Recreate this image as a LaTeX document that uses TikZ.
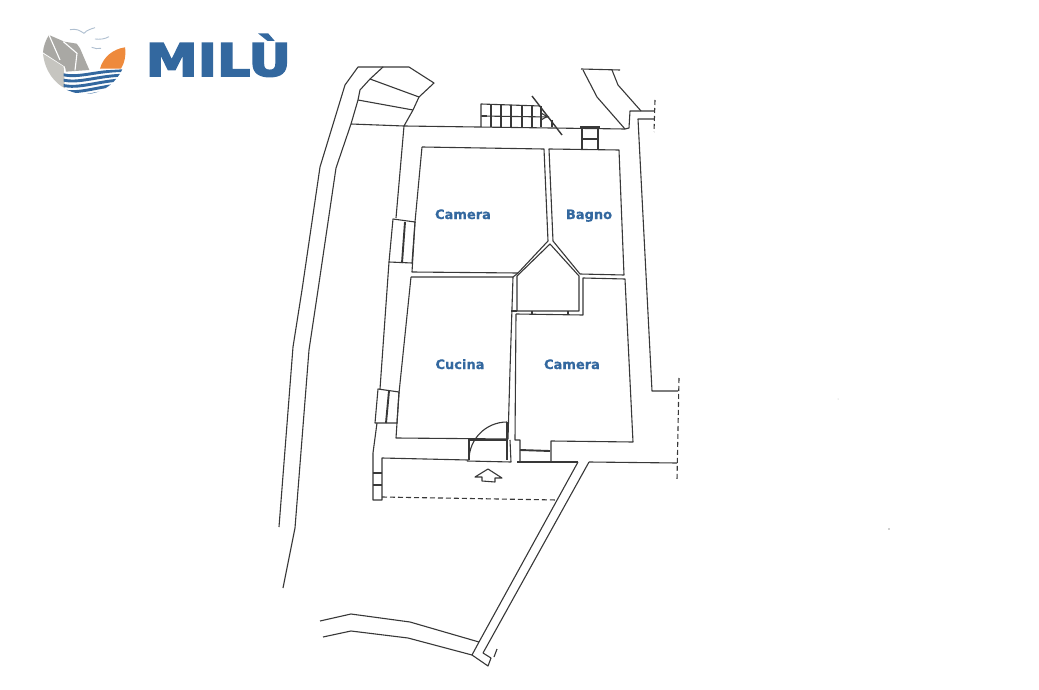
\documentclass[tikz,border=0pt]{standalone}
\usepackage{fontspec}
\setmainfont{DejaVu Sans}
\newfontfamily\brandfont[FakeBold=3.6]{DejaVu Sans Bold}
\newfontfamily\labelfont[FakeBold=0.6]{DejaVu Sans Bold}
\definecolor{milu}{HTML}{33689F}
\definecolor{ink}{HTML}{383838}
\definecolor{rockA}{HTML}{A9A8A4}
\definecolor{rockB}{HTML}{C6C5C0}
\definecolor{sun}{HTML}{EE8A3C}
\definecolor{bird}{HTML}{AFBFD0}
\tikzset{
 wall/.style={draw=ink,line width=1.1pt,line join=round},
 thick wall/.style={draw=ink,line width=1.9pt},
 dash wall/.style={draw=ink,line width=1.1pt,dash pattern=on 5pt off 3pt},
 room label/.style={font=\labelfont\fontsize{13}{14}\selectfont,text=milu,inner sep=0pt,anchor=base},
 rock line/.style={draw=white,line width=1.1pt},
 wave/.style={draw=milu,line width=2.9pt},
 birdline/.style={draw=bird,line width=0.9pt}
}
\begin{document}
\begin{tikzpicture}[x=1pt,y=-1pt]
\useasboundingbox (0,0) rectangle (1039,690);
\fill[white] (0,0) rectangle (1039,690);
% logo
\begin{scope}[shift={(35,25)},x=0.3333pt,y=-0.3333pt]
\fill[rockA] (42,30) .. controls (32,45) and (25,65) .. (24,82) -- (90,125) -- (93,140) -- (163,135) -- (135,70) -- (125,56) -- (88,50) -- cycle;
\fill[rockB] (24,86) -- (86,125) -- (90,190) .. controls (60,175) and (30,140) .. (24,86) -- cycle;
\draw[rock line] (42,30) -- (75,105);
\draw[rock line] (85,50) -- (126,85) -- (120,136);
\fill[sun] (195,131) .. controls (205,95) and (235,72) .. (270,67) .. controls (274,90) and (268,115) .. (258,131) -- cycle;
\begin{scope}
\clip (86,143) -- (262,133) .. controls (245,170) and (205,207) .. (150,207) .. controls (125,207) and (105,200) .. (86,190) -- cycle;
\foreach \d in {0,16,32,48,64}{
\draw[wave] (80,148+\d) .. controls (130,162+\d) and (190,135+\d) .. (270,137+\d*0.85);
}
\end{scope}
\draw[birdline] (105,14) .. controls (125,10) and (135,17) .. (147,25) .. controls (155,15) and (168,12) .. (180,8);
\draw[birdline] (180,42) .. controls (195,44) and (210,42) .. (222,35);
\draw[birdline] (170,67) .. controls (180,70) and (188,73) .. (198,70);
\end{scope}
\node[font=\brandfont\fontsize{45}{45}\selectfont,text=milu,inner sep=0pt,anchor=base west,xscale=1.16] (brand) at (145.5,76) {MILÙ};
% left boundary lines
\draw[wall] (383,67) -- (358,67) -- (345,85) -- (320,167) -- (302,290) -- (293,347) -- (279,527);
\draw[wall] (351,124) -- (336,168) -- (318,290) -- (309,350) -- (295,528) -- (283,588);
% steps
\draw[wall] (383,67) -- (409,67) -- (434,83) -- (419,97) -- (413,110) -- (404,126);
\draw[wall] (383,67) -- (370,79) -- (360,90) -- (358,100) -- (351,124);
\draw[wall] (370,79) -- (419,97) (358,100) -- (413,110) (351,124) -- (404,126);
% top wall and right wall
\draw[wall] (404,126) -- (625,129) -- (629,128) -- (630,111) -- (654,111);
\draw[wall] (654,119) -- (638,119) -- (652,391) -- (678,391);
\draw[dash wall] (655,100) -- (654,132);
% top right
\draw[wall] (581,69) -- (620,70);
\draw[wall] (583,70) -- (597,97) -- (625,129);
\draw[wall] (612,70) -- (618,85) -- (641,111);
% stairs
\draw[wall] (481,127) -- (481,104) -- (540,106);
\draw[wall] (481,116) -- (549,117);
\foreach \x/\b in {491/105,501/105,511/105,522/105,532/105,541/106,552/120}{\draw[wall] (\x,\b) -- (\x,127);}
\draw[draw=ink,line width=1.4pt] (532,96) -- (562,135);
\draw[draw=ink,line width=1.6pt] (482,116) -- (487,116);
\draw[wall] (541,113) -- (547,116.5) -- (541,120);
% chimney
\draw[wall] (580,127) -- (600,127);
\draw[wall] (582,128) -- (582,149) (598,128) -- (598,149);
\draw[thick wall] (582,139) -- (598,139);
% Camera 1
\draw[wall] (422,147) -- (544,149) -- (548,241) -- (518,273) -- (412,272) -- (415,222);
\draw[wall] (422,147) -- (415,222);
% Bagno
\draw[wall] (549,149) -- (619,150) -- (624,275) -- (580,274) -- (553,241) -- cycle;
% closet
\draw[wall] (550,244) -- (517,276) -- (517,311) -- (579,311) -- (579,276) -- cycle;
\draw[wall] (511,311) -- (517,311) (532,311) -- (532,314) (568,311) -- (568,315);
% Cucina
\draw[wall] (411,277) -- (513,277) -- (510,370) -- (508,439) -- (396,438) -- (399,393);
\draw[wall] (411,277) -- (399,393);
\draw[wall] (513,277) -- (518,273);
% Camera 2
\draw[wall] (516,314) -- (583,315) -- (583,278) -- (625,279) -- (633,442) -- (551,441) -- (551,462);
\draw[wall] (516,314) -- (515,440) -- (520,440) -- (520,461);
\draw[thick wall] (520,450) -- (550,451);
\draw[wall] (517,462) -- (578,462);
% outer left wall + windows
\draw[wall] (404,126) -- (396,218);
\draw[wall] (393,219) -- (415,222) -- (412,263) -- (389,262) -- cycle;
\draw[thick wall] (405,222) -- (402,263);
\draw[wall] (389,262) -- (380,389);
\draw[wall] (378,389) -- (399,392) -- (397,423) -- (375,423) -- cycle;
\draw[thick wall] (389,391) -- (386,423);
\draw[wall] (377,423) -- (373,453) -- (373,500) -- (382,500) -- (382,458) -- (468,460);
\draw[wall] (373,473) -- (382,473) (373,485) -- (382,485);
\draw[dash wall] (382,497) -- (557,500);
% entrance door
\draw[wall] (469,439) -- (469,460);
\draw[wall] (469,460) arc[start angle=180,end angle=270,radius=38];
\draw[draw=ink,line width=1.3pt] (507,422) -- (507,460);
\draw[wall] (467,461) -- (511,462) -- (510,440);
\draw[wall] (469,440) -- (508,440);
% arrow
\draw[wall] (475,477) -- (488,469) -- (502,478) -- (495,478) -- (495,482) -- (482,481) -- (482,477) -- cycle;
% bottom right
\draw[wall] (589,462) -- (677,463);
\draw[dash wall] (679,378) -- (677,480);
% long diagonal
\draw[wall] (578,462) -- (479,642);
\draw[wall] (589,462) -- (483,653) -- (491,658) -- (488,666) -- (472,655) -- (479,642);
\draw[wall] (497,649) -- (494,657);
% lower curves
\draw[wall] (320,621) -- (351,614) -- (410,622) -- (479,642);
\draw[wall] (323,637) -- (351,631) -- (408,638) -- (472,655);
% specks
\fill[ink] (889,529) circle (0.6);
\fill[ink!35] (838,399) circle (0.5);
% labels
\node[room label] (cam1) at (463,219) {Camera};
\node[room label] (bagno) at (589,219) {Bagno};
\node[room label] (cucina) at (460,369) {Cucina};
\node[room label] (cam2) at (572,369) {Camera};
\end{tikzpicture}
\end{document}
